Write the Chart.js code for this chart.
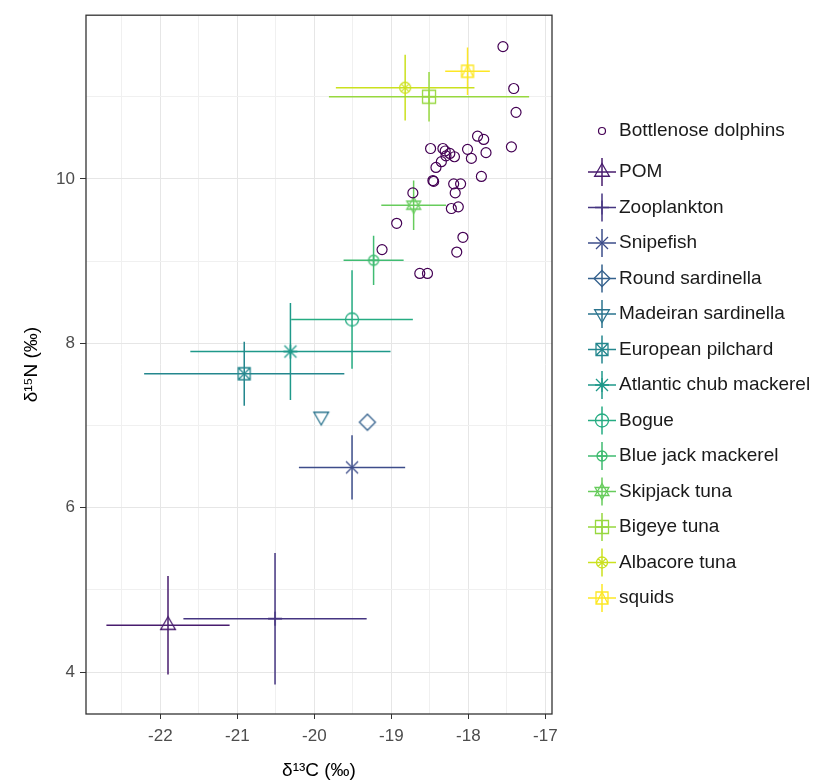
<!DOCTYPE html>
<html>
<head>
<meta charset="utf-8">
<script src="https://cdn.jsdelivr.net/npm/chart.js@4.4.0/dist/chart.umd.min.js"></script>
<style>
html, body { margin: 0; padding: 0; background: #fff; }
#wrap { width: 814px; height: 782px; }
</style>
</head>
<body>
<div id="wrap"><canvas id="isoplot" width="814" height="782"></canvas></div>
<script>
// bottlenose dolphin individuals (d13C, d15N)
const dolphinC = [-17.55, -17.41, -17.38, -17.88, -17.80, -17.44, -18.49, -18.33, -18.30, -18.01,
    -17.77, -18.29, -18.18, -17.96, -18.24, -18.35, -18.42, -18.46, -18.45, -17.83,
    -18.19, -18.10, -18.17, -18.22, -18.13, -18.72, -18.93, -19.12, -18.07, -18.15,
    -18.63, -18.53];
const dolphinN = [11.61, 11.10, 10.81, 10.52, 10.48, 10.39, 10.37, 10.37, 10.34, 10.36,
    10.32, 10.28, 10.27, 10.25, 10.31, 10.21, 10.14, 9.98, 9.97, 10.03,
    9.94, 9.94, 9.83, 9.64, 9.66, 9.83, 9.46, 9.14, 9.29, 9.11,
    8.85, 8.85];

// prey sources: mean +- sd
const preyNames = ['POM', 'Zooplankton', 'Snipefish', 'Round sardinella', 'Madeiran sardinella',
    'European pilchard', 'Atlantic chub mackerel', 'Bogue', 'Blue jack mackerel',
    'Skipjack tuna', 'Bigeye tuna', 'Albacore tuna', 'squids'];
const meanC = [-21.90, -20.51, -19.51, -19.31, -19.91, -20.91, -20.31, -19.51, -19.23, -18.71, -18.51, -18.82, -18.01];
const sdC   = [0.80, 1.19, 0.69, null, null, 1.30, 1.30, 0.79, 0.39, 0.42, 1.30, 0.90, 0.29];
const meanN = [4.57, 4.65, 6.49, 7.04, 7.11, 7.63, 7.90, 8.29, 9.01, 9.68, 11.00, 11.11, 11.31];
const sdN   = [0.60, 0.80, 0.39, null, null, 0.39, 0.59, 0.60, 0.30, 0.30, 0.30, 0.40, 0.29];

const xTicks = [-22.5, -22, -21.5, -21, -20.5, -20, -19.5, -19, -18.5, -18, -17.5, -17];
const yTicks = [4, 5, 6, 7, 8, 9, 10, 11];

// viridis, 14 levels (dolphins first)
const palette = ['#440154', '#481C6E', '#453581', '#3D4D8A', '#34618D', '#2B748E', '#24878E',
    '#1F998A', '#25AC82', '#40BC72', '#67CC5C', '#97D83F', '#CBE11E', '#FDE725'];
const shapes = ['triUp', 'plus', 'x', 'diamond', 'triDown', 'squareX', 'asterisk',
    'circle', 'circlePlus', 'star', 'squarePlus', 'circleX', 'squareTri'];

const FONT = '"Liberation Sans", Arial, sans-serif';

function tri(c, x, y, r, up) {
    const d = up ? 1 : -1;
    c.moveTo(x, y - d * r);
    c.lineTo(x - r * 0.866, y + d * r / 2);
    c.lineTo(x + r * 0.866, y + d * r / 2);
    c.closePath();
}

function drawShape(c, shape, x, y, col) {
    c.save();
    c.strokeStyle = col;
    c.lineWidth = 1.3;
    c.beginPath();
    switch (shape) {
        case 'triUp': tri(c, x, y, 8.5, true); break;
        case 'triDown': tri(c, x, y, 8.5, false); break;
        case 'plus':
            c.moveTo(x - 7, y); c.lineTo(x + 7, y);
            c.moveTo(x, y - 7); c.lineTo(x, y + 7); break;
        case 'x':
            c.moveTo(x - 6, y - 6); c.lineTo(x + 6, y + 6);
            c.moveTo(x - 6, y + 6); c.lineTo(x + 6, y - 6); break;
        case 'asterisk':
            c.moveTo(x - 6, y - 6); c.lineTo(x + 6, y + 6);
            c.moveTo(x - 6, y + 6); c.lineTo(x + 6, y - 6);
            c.moveTo(x - 7, y); c.lineTo(x + 7, y);
            c.moveTo(x, y - 7); c.lineTo(x, y + 7); break;
        case 'diamond':
            c.moveTo(x, y - 8); c.lineTo(x + 8, y); c.lineTo(x, y + 8); c.lineTo(x - 8, y); c.closePath(); break;
        case 'squareX':
            c.rect(x - 6, y - 6, 12, 12);
            c.moveTo(x - 6, y - 6); c.lineTo(x + 6, y + 6);
            c.moveTo(x - 6, y + 6); c.lineTo(x + 6, y - 6); break;
        case 'circle':
            c.arc(x, y, 6.5, 0, Math.PI * 2); break;
        case 'circlePlus':
            c.arc(x, y, 5, 0, Math.PI * 2);
            c.moveTo(x - 5, y); c.lineTo(x + 5, y);
            c.moveTo(x, y - 5); c.lineTo(x, y + 5); break;
        case 'star':
            tri(c, x, y, 8, true); tri(c, x, y, 8, false); break;
        case 'squarePlus':
            c.rect(x - 6.5, y - 6.5, 13, 13);
            c.moveTo(x - 6.5, y); c.lineTo(x + 6.5, y);
            c.moveTo(x, y - 6.5); c.lineTo(x, y + 6.5); break;
        case 'circleX':
            c.arc(x, y, 5.5, 0, Math.PI * 2);
            c.moveTo(x - 3.9, y - 3.9); c.lineTo(x + 3.9, y + 3.9);
            c.moveTo(x - 3.9, y + 3.9); c.lineTo(x + 3.9, y - 3.9); break;
        case 'squareTri':
            c.rect(x - 6, y - 6, 12, 12);
            c.moveTo(x, y - 6); c.lineTo(x - 6, y + 6); c.moveTo(x, y - 6); c.lineTo(x + 6, y + 6); break;
    }
    c.stroke();
    c.restore();
}

function makeIcon(shape, col) {
    const cv = document.createElement('canvas');
    cv.width = 26; cv.height = 26;
    drawShape(cv.getContext('2d'), shape, 13, 13, col);
    return cv;
}

// datasets
const datasets = [];
datasets.push({
    label: 'Bottlenose dolphins',
    data: dolphinC.map((x, i) => ({ x: x, y: dolphinN[i] })),
    pointStyle: 'circle',
    pointRadius: 5,
    borderWidth: 1.2,
    borderColor: palette[0],
    backgroundColor: 'rgba(0,0,0,0)',
    order: 0
});
preyNames.forEach((name, i) => {
    const col = palette[i + 1];
    if (sdC[i] !== null) {
        datasets.push({
            type: 'line',
            label: name + ' sd',
            data: [
                { x: meanC[i] - sdC[i], y: meanN[i] },
                { x: meanC[i] + sdC[i], y: meanN[i] },
                { x: meanC[i], y: null },
                { x: meanC[i], y: meanN[i] - sdN[i] },
                { x: meanC[i], y: meanN[i] + sdN[i] }
            ],
            borderColor: col,
            borderWidth: 1.5,
            pointRadius: 0,
            spanGaps: false,
            fill: false,
            order: 1
        });
    }
    datasets.push({
        label: name,
        data: [{ x: meanC[i], y: meanN[i] }],
        pointStyle: makeIcon(shapes[i], col),
        pointRadius: 10,
        order: 0
    });
});

// panel border all round
const panelBorder = {
    id: 'panelBorder',
    afterDatasetsDraw(chart) {
        const a = chart.chartArea, c = chart.ctx;
        c.save();
        c.strokeStyle = '#333333';
        c.lineWidth = 1.3;
        c.strokeRect(a.left, a.top, a.right - a.left, a.bottom - a.top);
        c.restore();
    }
};

// legend on the right
const sideLegend = {
    id: 'sideLegend',
    afterDraw(chart) {
        const c = chart.ctx;
        const iconX = 602, textX = 619;
        c.save();
        c.font = '19px ' + FONT;
        c.fillStyle = '#1a1a1a';
        c.textBaseline = 'middle';
        c.textAlign = 'left';
        c.beginPath();
        c.strokeStyle = palette[0];
        c.lineWidth = 1.2;
        c.arc(iconX, 131, 3.5, 0, Math.PI * 2);
        c.stroke();
        c.fillText('Bottlenose dolphins', textX, 131);
        preyNames.forEach((name, i) => {
            const y = 172 + i * 35.5;
            const col = palette[i + 1];
            c.beginPath();
            c.strokeStyle = col;
            c.lineWidth = 1.5;
            c.moveTo(iconX - 14, y); c.lineTo(iconX + 14, y);
            c.moveTo(iconX, y - 14); c.lineTo(iconX, y + 14);
            c.stroke();
            drawShape(c, shapes[i], iconX, y, col);
            c.fillText(name, textX, y);
        });
        c.restore();
    }
};

const isMajorX = v => Number.isInteger(v);
const isMajorY = v => v % 2 === 0;

new Chart(document.getElementById('isoplot').getContext('2d'), {
    type: 'scatter',
    data: { datasets: datasets },
    options: {
        responsive: false,
        animation: false,
        layout: { padding: { left: 20, right: 262, top: 14, bottom: 0 } },
        plugins: { legend: { display: false }, tooltip: { enabled: false } },
        scales: {
            x: {
                type: 'linear',
                min: -22.965,
                max: -16.913,
                afterBuildTicks: s => { s.ticks = xTicks.map(v => ({ value: v })); },
                afterFit: s => { s.height = 68; },
                ticks: {
                    autoSkip: false,
                    maxRotation: 0,
                    padding: 7,
                    color: '#4d4d4d',
                    font: { size: 17, family: FONT },
                    callback: v => isMajorX(v) ? String(v) : ''
                },
                grid: {
                    color: ctx => ctx.tick && isMajorX(ctx.tick.value) ? '#e6e6e6' : '#f0f0f0',
                    tickColor: ctx => ctx.tick && isMajorX(ctx.tick.value) ? '#333333' : 'rgba(0,0,0,0)',
                    tickLength: 5,
                    lineWidth: 1
                },
                border: { display: false },
                title: {
                    display: true,
                    text: 'δ¹³C (‰)',
                    color: '#000',
                    padding: 0,
                    font: { size: 19, family: FONT }
                }
            },
            y: {
                type: 'linear',
                min: 3.49,
                max: 11.992,
                afterBuildTicks: s => { s.ticks = yTicks.map(v => ({ value: v })); },
                afterFit: s => { s.width = 66; },
                ticks: {
                    padding: 5,
                    color: '#4d4d4d',
                    font: { size: 17, family: FONT },
                    callback: v => isMajorY(v) ? String(v) : ''
                },
                grid: {
                    color: ctx => ctx.tick && isMajorY(ctx.tick.value) ? '#e6e6e6' : '#f0f0f0',
                    tickColor: ctx => ctx.tick && isMajorY(ctx.tick.value) ? '#333333' : 'rgba(0,0,0,0)',
                    tickLength: 6,
                    lineWidth: 1
                },
                border: { display: false },
                title: {
                    display: true,
                    text: 'δ¹⁵N (‰)',
                    color: '#000',
                    padding: 0,
                    font: { size: 19, family: FONT }
                }
            }
        }
    },
    plugins: [panelBorder, sideLegend]
});
</script>
</body>
</html>
